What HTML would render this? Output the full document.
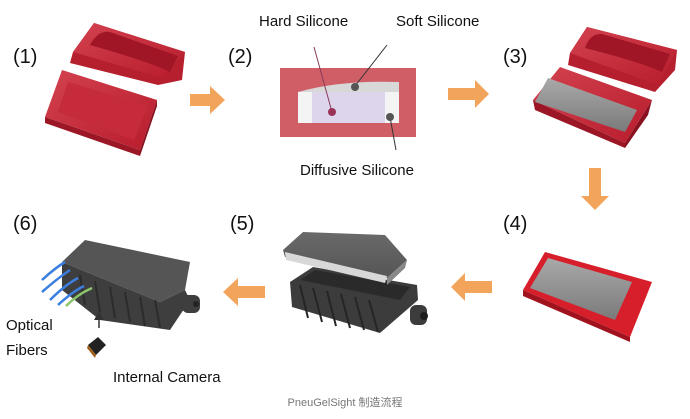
<!DOCTYPE html>
<html><head><meta charset="utf-8"><style>
html,body{margin:0;padding:0;background:#fff}
svg{display:block}
text{font-family:"Liberation Sans",Arial,sans-serif}
</style></head><body>
<svg width="690" height="419" viewBox="0 0 690 419" xmlns="http://www.w3.org/2000/svg">
<defs>
<linearGradient id="red" x1="0" y1="0" x2="1" y2="1"><stop offset="0" stop-color="#d3424f"/><stop offset="1" stop-color="#b81c2c"/></linearGradient>
<linearGradient id="gray" x1="0" y1="0" x2="0" y2="1"><stop offset="0" stop-color="#a9a9a9"/><stop offset="1" stop-color="#7a7a7a"/></linearGradient>
<linearGradient id="lid" x1="0" y1="0" x2="0" y2="1"><stop offset="0" stop-color="#6a6a6a"/><stop offset="1" stop-color="#555"/></linearGradient>
</defs>
<g font-size="20" fill="#111">
<text x="13" y="63">(1)</text>
<text x="228" y="63">(2)</text>
<text x="503" y="63">(3)</text>
<text x="503" y="230">(4)</text>
<text x="230" y="230">(5)</text>
<text x="13" y="230">(6)</text>
</g>
<g font-size="15" fill="#111">
<text x="259" y="26">Hard Silicone</text>
<text x="396" y="26">Soft Silicone</text>
<text x="300" y="175">Diffusive Silicone</text>
<text x="6" y="330">Optical</text>
<text x="6" y="355">Fibers</text>
<text x="113" y="382">Internal Camera</text>
</g>
<text x="345" y="406" font-size="11" fill="#777" text-anchor="middle" font-family="'Liberation Sans','Noto Sans CJK SC',sans-serif">PneuGelSight 制造流程</text>

<g fill="#f2a55a">
<polygon points="190,94 210,94 210,86 225,100 210,114 210,106 190,106"/>
<polygon points="448,88 475,88 475,80 489,94 475,108 475,100 448,100"/>
<polygon points="589,168 601,168 601,196 609,196 595,210 581,196 589,196"/>
<polygon points="492,281 465,281 465,273 451,287 465,301 465,293 492,293"/>
<polygon points="265,286 238,286 238,278 223,292 238,306 238,298 265,298"/>
</g>

<!-- mold 1 -->
<polygon points="73,52 94,23 185,52 182,80 158,85 70,63" fill="#b51f2e"/>
<polygon points="73,52 94,23 185,52 162,78" fill="url(#red)"/>
<path d="M90,45 Q98,30 110,32 L178,56 L170,72 Q150,62 90,45 Z" fill="#a01626"/>
<polygon points="62,70 157,100 140,150 45,117" fill="url(#red)"/>
<polygon points="45,117 140,150 140,156 45,123" fill="#9c1726"/>
<polygon points="140,150 157,100 157,106 140,156" fill="#8a1220"/>
<polygon points="68,82 148,106 134,140 58,112" fill="#c52b3a"/>

<!-- box 2 -->
<rect x="280" y="68" width="136" height="69" fill="#d05e66"/>
<rect x="298" y="92" width="101" height="31" fill="#f4f4f4"/>
<path d="M298,92 Q340,80 399,82 L399,92 Z" fill="#d8d8d8"/>
<rect x="312" y="92" width="73" height="31" fill="#dcd5ec"/>
<line x1="314" y1="47" x2="332" y2="112" stroke="#8a3a5a" stroke-width="1"/>
<circle cx="332" cy="112" r="4" fill="#9a3358"/>
<line x1="387" y1="45" x2="355" y2="86" stroke="#333" stroke-width="1"/>
<circle cx="355" cy="87" r="4" fill="#555"/>
<line x1="390" y1="117" x2="396" y2="150" stroke="#333" stroke-width="1"/>
<circle cx="390" cy="117" r="4" fill="#555"/>

<!-- mold 3 -->
<polygon points="570,53 587,27 677,50 675,70 655,92 568,65" fill="#b51f2e"/>
<polygon points="570,53 587,27 677,50 658,85" fill="url(#red)"/>
<path d="M585,48 Q590,33 602,34 L670,54 L662,72 Q640,62 585,48 Z" fill="#a01626"/>
<polygon points="533,100 560,67 652,100 625,143" fill="url(#red)"/>
<polygon points="533,100 625,143 625,148 535,110" fill="#9c1726"/>
<polygon points="625,143 652,100 648,115 625,148" fill="#8a1220"/>
<polygon points="535,102 548,78 637,110 625,132" fill="url(#gray)"/>

<!-- mold 4 -->
<polygon points="523,290 545,252 652,282 630,337" fill="#d61f2a"/>
<polygon points="523,290 630,337 630,342 523,296" fill="#a0121d"/>
<polygon points="530,288 548,258 632,282 615,320" fill="url(#gray)"/>

<!-- object 5 -->
<polygon points="290,282 313,267 417,285 418,300 380,333 292,307" fill="#3c3c3c"/>
<polygon points="300,280 315,270 410,287 400,300" fill="#2a2a2a"/>
<g stroke="#252525" stroke-width="2">
<line x1="300" y1="285" x2="308" y2="318"/><line x1="313" y1="288" x2="322" y2="322"/>
<line x1="327" y1="291" x2="336" y2="326"/><line x1="341" y1="294" x2="350" y2="328"/>
<line x1="355" y1="297" x2="364" y2="330"/><line x1="369" y1="300" x2="378" y2="332"/>
</g>
<polygon points="283,250 303,232 385,235 407,260 387,278 285,257" fill="url(#lid)"/>
<polygon points="285,252 387,276 385,283 286,260" fill="#d8d8d8"/>
<polygon points="387,278 407,260 405,268 387,285" fill="#888"/>
<rect x="410" y="305" width="17" height="20" rx="6" fill="#3c3c3c"/>
<circle cx="424" cy="316" r="4" fill="#1e1e1e"/>

<!-- object 6 -->
<polygon points="62,262 85,240 190,262 185,290 160,302" fill="#555"/>
<polygon points="62,262 160,302 185,290 190,300 170,330 100,320 62,290" fill="#3e3e3e"/>
<g stroke="#2c2c2c" stroke-width="2">
<line x1="80" y1="275" x2="85" y2="305"/><line x1="95" y1="281" x2="100" y2="312"/>
<line x1="110" y1="287" x2="115" y2="318"/><line x1="125" y1="292" x2="130" y2="322"/>
<line x1="140" y1="297" x2="145" y2="326"/><line x1="155" y1="300" x2="160" y2="328"/>
</g>
<rect x="182" y="295" width="18" height="18" rx="6" fill="#3e3e3e"/>
<circle cx="196" cy="304" r="3" fill="#222"/>
<g fill="none" stroke="#3a7fe0" stroke-width="2.5">
<path d="M42,280 Q55,268 65,262"/><path d="M42,292 Q58,278 70,270"/>
<path d="M50,300 Q65,285 78,278"/><path d="M58,305 Q72,292 84,286"/>
</g>
<path d="M66,306 Q78,294 92,288" fill="none" stroke="#8cc66a" stroke-width="2.5"/>
<line x1="99" y1="328" x2="99" y2="318" stroke="#333" stroke-width="1.5"/>
<polygon points="94,320 104,320 99,311" fill="#333"/>
<polygon points="88,345 98,337 106,345 96,355" fill="#222"/>
<polygon points="88,345 96,355 95,358 87,348" fill="#a0601a"/>
</svg>
</body></html>
